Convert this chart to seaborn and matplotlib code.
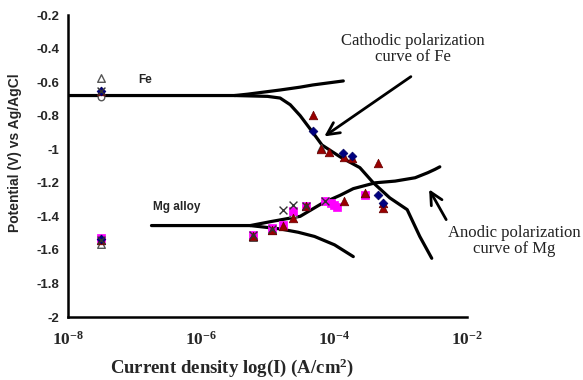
import matplotlib
matplotlib.use("Agg")
import matplotlib.pyplot as plt
import seaborn as sns
import pandas as pd

# ---------------- data ----------------
fe_cath_I = [1e-8, 3.2e-6, 1.0e-5, 1.55e-5, 2.2e-5, 3.1e-5, 4.8e-5, 6.6e-5,
             1.23e-4, 2.45e-4, 3.9e-4, 6.9e-4, 1.26e-3, 1.95e-3, 2.95e-3]
fe_cath_E = [-0.68, -0.68, -0.685, -0.695, -0.735, -0.80, -0.90, -0.975,
             -1.045, -1.11, -1.20, -1.29, -1.36, -1.52, -1.65]

fe_anod_I = [3.2e-6, 5.0e-6, 1.55e-5, 3.1e-5, 4.8e-5, 1.38e-4]
fe_anod_E = [-0.68, -0.672, -0.647, -0.63, -0.617, -0.593]

mg_anod_I = [1.8e-7, 5.5e-6, 1.17e-5, 3.1e-5, 6.8e-5, 1.23e-4, 1.95e-4,
             4.2e-4, 8.3e-4, 1.66e-3, 2.57e-3, 3.3e-3, 3.9e-3]
mg_anod_E = [-1.455, -1.455, -1.43, -1.40, -1.32, -1.275, -1.235,
             -1.20, -1.19, -1.17, -1.14, -1.12, -1.105]

mg_cath_I = [5.5e-6, 1.55e-5, 2.9e-5, 5.1e-5, 1.02e-4, 1.95e-4]
mg_cath_E = [-1.455, -1.475, -1.495, -1.52, -1.57, -1.64]

red_I = [3.16e-8, 3.16e-8, 4.8e-5, 6.3e-5, 8.3e-5, 1.4e-4, 1.86e-4, 4.6e-4,
         6.0e-6, 1.17e-5, 1.7e-5, 2.4e-5, 3.8e-5, 1.4e-4, 2.95e-4, 5.5e-4, 5.5e-4]
red_E = [-0.655, -1.54, -0.796, -1.00, -1.016, -1.046, -1.05, -1.08,
         -1.52, -1.48, -1.455, -1.41, -1.34, -1.31, -1.26, -1.32, -1.35]

blue_I = [3.16e-8, 3.16e-8, 4.8e-5, 1.38e-4, 1.86e-4, 4.6e-4, 5.5e-4]
blue_E = [-0.65, -1.535, -0.89, -1.02, -1.04, -1.27, -1.32]

mag_I = [3.16e-8, 6.0e-6, 1.17e-5, 1.7e-5, 2.4e-5, 3.8e-5, 7.2e-5,
         9.0e-5, 1.0e-4, 1.1e-4, 2.95e-4]
mag_E = [-1.53, -1.51, -1.47, -1.45, -1.37, -1.34, -1.31,
         -1.32, -1.33, -1.345, -1.27]

x_I = [3.16e-8, 3.16e-8, 6.0e-6, 1.17e-5, 1.7e-5, 2.4e-5, 3.8e-5, 7.2e-5]
x_E = [-0.655, -1.54, -1.51, -1.475, -1.36, -1.33, -1.34, -1.31]

otri_I = [3.16e-8, 3.16e-8, 6.0e-6, 1.17e-5, 1.7e-5, 2.4e-5, 6.3e-5]
otri_E = [-0.575, -1.565, -1.525, -1.48, -1.45, -1.38, -0.99]

ocirc_I = [3.16e-8]
ocirc_E = [-0.69]

x_ticks = [1e-8, 1e-6, 1e-4, 1e-2]
x_tick_labels = [r"$\mathbf{10^{-8}}$", r"$\mathbf{10^{-6}}$",
                 r"$\mathbf{10^{-4}}$", r"$\mathbf{10^{-2}}$"]
y_ticks = [-0.2, -0.4, -0.6, -0.8, -1.0, -1.2, -1.4, -1.6, -1.8, -2.0]
y_tick_labels = ["-0.2", "-0.4", "-0.6", "-0.8", "-1", "-1.2", "-1.4",
                 "-1.6", "-1.8", "-2"]

# ---------------- style ----------------
sns.set_style("white")
plt.rcParams["font.family"] = ["Liberation Sans", "DejaVu Sans"]
plt.rcParams["mathtext.fontset"] = "custom"
plt.rcParams["mathtext.rm"] = "Liberation Serif"
plt.rcParams["mathtext.bf"] = "Liberation Serif:bold"
plt.rcParams["mathtext.it"] = "Liberation Serif:italic"

W, H = 583, 380
fig = plt.figure(figsize=(W / 100, H / 100), dpi=100)
ax = fig.add_axes([68 / W, 1 - 317 / H, (467 - 68) / W, (317 - 15) / H])

lw = 2.3
for I, E in [(fe_cath_I, fe_cath_E), (fe_anod_I, fe_anod_E),
             (mg_anod_I, mg_anod_E), (mg_cath_I, mg_cath_E)]:
    df = pd.DataFrame({"I": I, "E": E})
    sns.lineplot(data=df, x="I", y="E", ax=ax, sort=False, estimator=None,
                 color="black", lw=lw, zorder=2)

def scat(I, E, **kw):
    sns.scatterplot(data=pd.DataFrame({"I": I, "E": E}), x="I", y="E", ax=ax,
                    zorder=3, legend=False, **kw)

scat(otri_I, otri_E, marker="^", s=30, facecolor="white", edgecolor="#555555", linewidth=1.0)
scat(ocirc_I, ocirc_E, marker="o", s=22, facecolor="white", edgecolor="#555555", linewidth=1.0)
scat(mag_I, mag_E, marker="s", s=34, color="#FF00FF", edgecolor="#FF00FF", linewidth=0.5)
scat(red_I, red_E, marker="^", s=38, color="#990000", edgecolor="#660000", linewidth=0.5)
scat(blue_I, blue_E, marker="D", s=20, color="#000080", edgecolor="#000060", linewidth=0.5)
scat(x_I, x_E, marker="x", s=32, color="#333333", linewidth=1.0)

ax.set_xscale("log")
ax.set_xlim(1e-8, 1e-2)
ax.set_ylim(-2.0, -0.2)
ax.set_xticks(x_ticks)
ax.set_xticklabels(x_tick_labels, fontsize=12.5)
ax.minorticks_off()
ax.set_yticks(y_ticks)
ax.set_yticklabels(y_tick_labels, fontsize=9.5, fontweight="bold")
ax.tick_params(axis="both", direction="in", length=5, width=1.5, color="black")
ax.tick_params(axis="x", pad=9)
ax.tick_params(axis="y", pad=6)
for side in ["top", "right"]:
    ax.spines[side].set_visible(False)
for side in ["left", "bottom"]:
    ax.spines[side].set_color("black")
    ax.spines[side].set_linewidth(1.8)
ax.set_xlabel("")
ax.set_ylabel("")

fig.text(15 / W, 1 - 153 / H, "Potential (V) vs Ag/AgCl", rotation=90,
         ha="center", va="center", fontsize=10, fontweight="bold")
fig.text(232 / W, 1 - 368 / H, r"Current density log(I) (A/cm$\mathbf{^{2}}$)",
         ha="center", va="center", fontsize=13.5, fontweight="bold",
         family="Liberation Serif")

fig.text(145 / W, 1 - 80 / H, "Fe", ha="center", va="center",
         fontsize=8.5, fontweight="bold")
fig.text(177 / W, 1 - 207 / H, "Mg alloy", ha="center", va="center",
         fontsize=8.5, fontweight="bold")

fig.text(413 / W, 1 - 49 / H, "Cathodic polarization\ncurve of Fe",
         ha="center", va="center", fontsize=12, family="Liberation Serif",
         color="#222222", linespacing=1.05)
fig.text(514 / W, 1 - 241 / H, "Anodic polarization\ncurve of Mg",
         ha="center", va="center", fontsize=12, family="Liberation Serif",
         color="#222222", linespacing=1.05)

ax.annotate("", xy=(6.6e-5, -0.933), xytext=(1.55e-3, -0.558),
            arrowprops=dict(arrowstyle="->", lw=2, color="black",
                            mutation_scale=22))
ax.annotate("", xy=(2.57e-3, -1.225), xytext=(5.1e-3, -1.434),
            arrowprops=dict(arrowstyle="->", lw=2, color="black",
                            mutation_scale=22), annotation_clip=False)

fig.savefig("out.png", dpi=100)
